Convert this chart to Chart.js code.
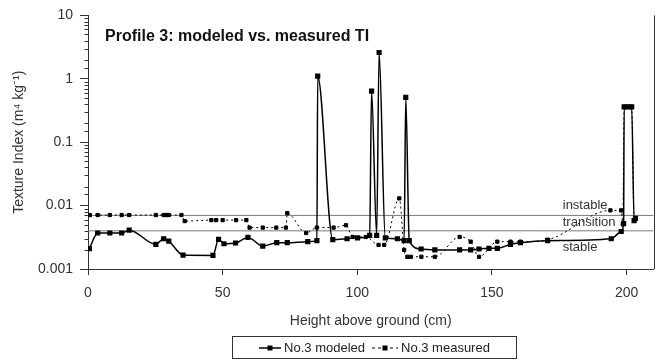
<!DOCTYPE html>
<html>
<head>
<meta charset="utf-8">
<script src="https://cdn.jsdelivr.net/npm/chart.js@4.4.0/dist/chart.umd.min.js"></script>
<style>
  body { margin: 0; background: #fff; font-family: "Liberation Sans", Arial, sans-serif; }
  #wrap { position: relative; width: 659px; height: 361px; }
  #title { position: absolute; left: 105px; top: 27px; font-weight: bold; font-size: 16px; color: #111; }
  #legend { position: absolute; left: 232px; top: 336px; width: 285px; height: 23px; box-sizing: border-box;
            border: 1px solid #333; font-size: 13px; color: #222; display: flex; align-items: center; justify-content: center; gap: 3px; }
  #legend svg { display: block; }
</style>
</head>
<body>
<div id="wrap">
  <canvas id="myChart" width="659" height="361"></canvas>
  <div id="title">Profile 3: modeled vs. measured TI</div>
  <div id="legend">
    <svg width="22" height="10"><line x1="0" y1="5" x2="22" y2="5" stroke="#000" stroke-width="1.5"/><rect x="8.5" y="2.5" width="5" height="5" fill="#000"/></svg>
    <span>No.3 modeled</span>
    <svg width="26" height="10" style="margin-left:4px"><line x1="0" y1="5" x2="26" y2="5" stroke="#000" stroke-width="1" stroke-dasharray="3,3"/><rect x="10.5" y="2.5" width="5" height="5" fill="#000"/></svg>
    <span>No.3 measured</span>
  </div>
</div>
<script>
// heights (cm) and texture index values
const modeledX = [0.5, 3.6, 8.1, 12.5, 15.3, 25.2, 28.1, 30, 35.3, 46.4, 48.5, 50.5, 54.8, 59.4, 64.9, 70.1, 74, 81.6,
  85, 85.3, 90.9, 96.2, 100.1, 104.6, 105.3, 107.2, 108.1, 110.4, 114.9, 117.4, 118, 119.3, 123.7, 128.8, 138, 142.1,
  145.2, 148.9, 152, 156.9, 160.6, 170.7, 194.3, 198, 198.9, 199.1, 200.5, 201.9, 202.8, 203.3];
const modeledY = [0.0021, 0.0037, 0.0037, 0.0037, 0.0041, 0.00245, 0.003, 0.00276, 0.00166, 0.00164, 0.00294, 0.0025,
  0.00257, 0.00315, 0.0023, 0.0026, 0.0026, 0.0027, 0.0028, 1.1, 0.0029, 0.003, 0.0031, 0.0034, 0.64, 0.0034, 2.6,
  0.0031, 0.003, 0.0028, 0.51, 0.0028, 0.00207, 0.002, 0.002, 0.002, 0.00207, 0.00212, 0.00212, 0.00245, 0.0026,
  0.0028, 0.003, 0.0039, 0.0052, 0.36, 0.36, 0.36, 0.0058, 0.0063];

const measuredX = [0.7, 3.6, 8.1, 12.5, 15.3, 25.2, 28.1, 29.1, 30, 34.7, 35.9, 45.8, 47.6, 50, 55, 58.8, 60, 64.9,
  69.9, 73.5, 74, 81, 85, 91.2, 95.8, 98.3, 103.2, 107.9, 110, 115.6, 117.4, 118.6, 119.9, 123.8, 128.8, 138, 142.1,
  145.2, 152, 156.9, 160.6, 170.7, 194, 198, 198.6, 199.1, 200.5, 201.9, 202.8, 203.3];
const measuredY = [0.0071, 0.0071, 0.0071, 0.0071, 0.0071, 0.0071, 0.0071, 0.0071, 0.0071, 0.0071, 0.0057, 0.0059,
  0.0059, 0.0059, 0.0059, 0.0059, 0.0045, 0.0045, 0.0045, 0.0045, 0.0076, 0.0037, 0.0045, 0.0045, 0.0049, 0.0032,
  0.0032, 0.0024, 0.0024, 0.013, 0.002, 0.00156, 0.00156, 0.00156, 0.00156, 0.0032, 0.0027, 0.00156, 0.0027, 0.0027,
  0.0027, 0.0029, 0.0084, 0.0084, 0.0051, 0.36, 0.36, 0.36, 0.0058, 0.0063];

// stability thresholds
const instableLimit = 0.007;
const stableLimit = 0.004;
const zoneLabels = ["instable", "transition", "stable"];

const xTicks = [0, 50, 100, 150, 200];
const yTickLabels = ["0.001", "0.01", "0.1", "1", "10"];

function toPoints(xs, ys) {
  return xs.map((x, i) => ({ x: x, y: ys[i] }));
}

function isDecade(v) {
  const e = Math.log10(v);
  return Math.abs(e - Math.round(e)) < 1e-6;
}

const textColor = "#333";
const axisColor = "#333";

const zonePlugin = {
  id: "zones",
  afterDatasetsDraw(chart) {
    const { ctx, scales } = chart;
    const x = scales.x.getPixelForValue(176.3);
    const yTop = scales.y.getPixelForValue(instableLimit);
    const yBot = scales.y.getPixelForValue(stableLimit);
    ctx.save();
    ctx.fillStyle = "#333";
    ctx.font = '13px "Liberation Sans", Arial, sans-serif';
    ctx.textBaseline = "middle";
    ctx.fillText(zoneLabels[0], x, yTop - 10);
    ctx.fillText(zoneLabels[1], x, (yTop + yBot) / 2 - 1);
    ctx.fillText(zoneLabels[2], x, yBot + 17);
    const a = chart.chartArea;
    ctx.strokeStyle = axisColor;
    ctx.lineWidth = 1;
    // right frame line
    ctx.beginPath();
    ctx.moveTo(Math.round(a.right) + 0.5, a.top);
    ctx.lineTo(Math.round(a.right) + 0.5, a.bottom);
    ctx.stroke();
    // short minor ticks on the log axis
    const lx = Math.round(a.left) + 0.5;
    scales.y.ticks.forEach(t => {
      if (isDecade(t.value)) return;
      const py = Math.round(scales.y.getPixelForValue(t.value)) + 0.5;
      ctx.beginPath();
      ctx.moveTo(lx - 4, py);
      ctx.lineTo(lx, py);
      ctx.stroke();
    });
    ctx.restore();
  }
};

const data = {
  datasets: [
    {
      label: "No.3 modeled",
      data: toPoints(modeledX, modeledY),
      showLine: true,
      borderColor: "#000",
      backgroundColor: "#000",
      borderWidth: 1.5,
      pointStyle: "rect",
      pointRadius: 2.6,
      cubicInterpolationMode: "monotone"
    },
    {
      label: "No.3 measured",
      data: toPoints(measuredX, measuredY),
      showLine: true,
      borderColor: "#000",
      backgroundColor: "#000",
      borderWidth: 1,
      borderDash: [2, 3],
      pointStyle: "rect",
      pointRadius: 2.3,
      cubicInterpolationMode: "monotone"
    },
    {
      label: "instable",
      data: [{ x: 0, y: instableLimit }, { x: 210, y: instableLimit }],
      showLine: true,
      borderColor: "#7a7a7a",
      borderWidth: 1,
      pointRadius: 0
    },
    {
      label: "stable",
      data: [{ x: 0, y: stableLimit }, { x: 210, y: stableLimit }],
      showLine: true,
      borderColor: "#7a7a7a",
      borderWidth: 1,
      pointRadius: 0
    }
  ]
};

const config = {
  type: "scatter",
  data: data,
  options: {
    responsive: false,
    animation: false,
    layout: { padding: { top: 13, right: 4, left: 0, bottom: 30 } },
    plugins: { legend: { display: false }, tooltip: { enabled: false } },
    scales: {
      x: {
        type: "linear",
        position: "bottom",
        min: 0,
        max: 210,
        afterBuildTicks: (s) => { s.ticks = xTicks.map(v => ({ value: v })); },
        ticks: { color: textColor, font: { size: 14 }, padding: 10, maxRotation: 0 },
        grid: { drawOnChartArea: false, tickLength: 6, color: axisColor },
        border: { color: axisColor },
        title: { display: true, text: "Height above ground (cm)", color: textColor, font: { size: 14 }, padding: { top: 4, bottom: 1 } },
        afterFit: (s) => { s.height = 62; }
      },
      y: {
        type: "logarithmic",
        min: 0.001,
        max: 10,
        ticks: {
          color: textColor,
          font: { size: 14 },
          padding: 7,
          autoSkip: false,
          callback: (v) => isDecade(v) ? yTickLabels[Math.round(Math.log10(v)) + 3] : ""
        },
        grid: {
          drawOnChartArea: false,
          tickLength: 8,
          color: axisColor,
          tickColor: (c) => (c.tick && isDecade(c.tick.value)) ? axisColor : "rgba(0,0,0,0)"
        },
        border: { color: axisColor },
        title: { display: true, text: "Texture Index (m\u2074 kg\u207B\u00B9)", color: textColor, font: { size: 14 }, padding: { top: 11, bottom: 0 } },
        afterFit: (s) => { s.width = 88; }
      }
    }
  },
  plugins: [zonePlugin]
};

// render init block
const myChart = new Chart(document.getElementById("myChart"), config);
</script>
</body>
</html>
